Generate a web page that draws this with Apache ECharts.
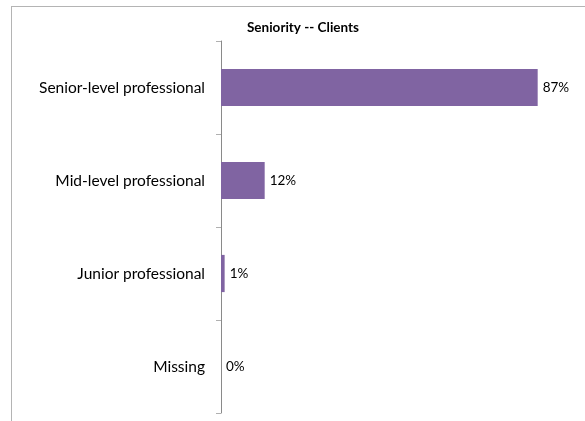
<!DOCTYPE html>
<html>
<head>
<meta charset="utf-8">
<script src="https://cdn.jsdelivr.net/npm/echarts@6/dist/echarts.min.js"></script>
<style>
  html, body { margin: 0; padding: 0; background: #fff; overflow: hidden; }
  #wrap { position: relative; width: 585px; height: 421px; overflow: hidden; }
  #chart { width: 585px; height: 421px; }
  /* chart frame: only its top and left edges fall inside the page */
  #frame {
    position: absolute; left: 11px; top: 6px; width: 700px; height: 500px;
    border-top: 1px solid #b4b4b4; border-left: 1px solid #b4b4b4;
    pointer-events: none;
  }
</style>
</head>
<body>
<div id="wrap">
  <div id="chart"></div>
  <div id="frame"></div>
</div>
<script>
// Seniority breakdown of clients (share in percent)
const categories = ['Senior-level professional', 'Mid-level professional', 'Junior professional', 'Missing'];
const shares = [87, 12, 1, 0];
const chartTitle = 'Seniority -- Clients';

const FONT = 'Lato, "Open Sans", sans-serif';
const chart = echarts.init(document.getElementById('chart'), null, { renderer: 'canvas' });

chart.setOption({
  animation: false,
  backgroundColor: '#ffffff',
  title: {
    text: chartTitle,
    left: 298,
    top: 16,
    textAlign: 'center',
    textStyle: { fontFamily: FONT, fontSize: 13.5, fontWeight: 'bold', color: '#000' }
  },
  grid: { left: 221, top: 41, right: 0, bottom: 8, containLabel: false },
  xAxis: {
    type: 'value',
    min: 0,
    max: 100,
    show: false
  },
  yAxis: {
    type: 'category',
    data: categories,
    inverse: true,
    axisLine: { show: true, lineStyle: { color: '#8a8a8a', width: 1 } },
    axisTick: { show: true, length: 5, lineStyle: { color: '#b0b0b0' } },
    axisLabel: { fontFamily: FONT, fontSize: 15.5, color: '#000', margin: 16 },
    splitLine: { show: false }
  },
  series: [{
    type: 'bar',
    data: shares,
    barCategoryGap: '60%',
    itemStyle: { color: '#8064a2' },
    label: {
      show: true,
      position: 'right',
      distance: 5,
      formatter: '{c}%',
      fontFamily: FONT,
      fontSize: 13.5,
      color: '#000'
    }
  }]
});
</script>
</body>
</html>
